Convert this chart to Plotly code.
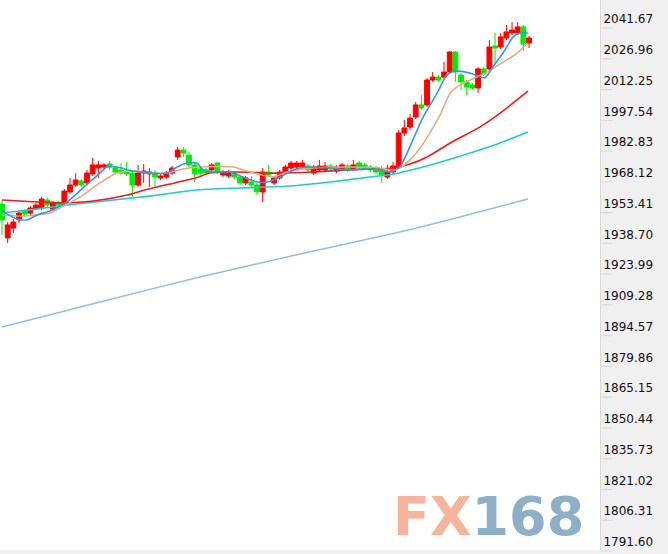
import plotly.graph_objects as go

# ---- candle data (index, open, high, low, close) ----
opens = [1953.2, 1937.0, 1941.7, 1945.6, 1949.9, 1948.9, 1950.8, 1951.3, 1955.1, 1950.8,
         1953.7, 1953.7, 1959.0, 1962.3, 1964.2, 1963.3, 1967.6, 1970.4, 1970.9, 1972.3,
         1970.4, 1969.5, 1968.5, 1968.0, 1962.3, 1968.0, 1967.6, 1968.0, 1965.7, 1966.1,
         1968.0, 1975.7, 1979.0, 1976.6, 1971.9, 1970.0, 1969.5, 1969.5, 1972.8, 1967.1,
         1966.6, 1968.0, 1966.1, 1963.3, 1963.7, 1962.3, 1959.0, 1968.5, 1963.3, 1965.7,
         1968.5, 1970.4, 1970.9, 1970.9, 1971.4, 1968.0, 1969.5, 1969.5, 1971.4, 1969.0,
         1970.0, 1971.4, 1970.0, 1972.8, 1971.9, 1970.9, 1970.4, 1969.5, 1966.1, 1968.5,
         1970.9, 1987.2, 1990.0, 1994.8, 2000.6, 2000.6, 2012.5, 2013.9, 2013.9, 2016.3,
         2025.9, 2014.9, 2011.6, 2010.1, 2008.7, 2017.8, 2017.8, 2028.8, 2028.3, 2032.6,
         2035.0, 2035.0, 2037.9, 2030.2]
highs = [1955.1, 1944.6, 1946.0, 1949.9, 1950.8, 1952.3, 1953.7, 1956.6, 1956.1, 1954.7,
         1954.7, 1960.4, 1965.7, 1968.0, 1965.2, 1969.5, 1975.2, 1973.8, 1972.8, 1973.8,
         1971.4, 1972.8, 1973.3, 1969.5, 1971.9, 1972.3, 1970.4, 1969.5, 1968.0, 1969.0,
         1971.4, 1980.5, 1980.5, 1978.1, 1973.3, 1971.4, 1970.4, 1972.8, 1973.3, 1969.5,
         1969.5, 1969.0, 1967.1, 1966.6, 1966.6, 1963.3, 1970.4, 1971.9, 1966.6, 1969.5,
         1971.9, 1973.8, 1973.8, 1974.3, 1972.3, 1971.9, 1974.3, 1973.3, 1972.3, 1971.9,
         1972.8, 1972.3, 1974.3, 1973.8, 1972.8, 1971.9, 1971.4, 1971.4, 1971.9, 1973.3,
         1988.6, 1993.4, 1996.3, 2002.0, 2005.3, 2013.5, 2016.3, 2014.9, 2021.1, 2026.4,
         2026.4, 2015.9, 2012.5, 2011.1, 2018.7, 2018.7, 2031.6, 2035.0, 2035.0, 2038.8,
         2040.2, 2040.2, 2038.8, 2033.6]
lows = [1938.4, 1934.6, 1939.4, 1944.1, 1947.0, 1948.0, 1950.4, 1950.4, 1951.8, 1949.9,
        1951.8, 1952.7, 1958.0, 1961.4, 1961.4, 1962.3, 1966.6, 1965.7, 1970.0, 1969.5,
        1967.6, 1967.1, 1966.6, 1956.6, 1961.4, 1963.3, 1961.4, 1961.4, 1964.7, 1965.2,
        1967.1, 1974.3, 1975.7, 1970.9, 1963.7, 1967.1, 1967.1, 1968.5, 1967.6, 1966.1,
        1965.7, 1965.2, 1962.3, 1962.3, 1961.4, 1957.5, 1954.2, 1966.1, 1962.3, 1964.7,
        1967.6, 1969.5, 1970.0, 1970.0, 1968.5, 1967.1, 1968.5, 1968.5, 1969.0, 1968.0,
        1969.0, 1968.5, 1969.0, 1970.0, 1969.5, 1968.5, 1967.6, 1963.3, 1965.2, 1967.6,
        1970.0, 1985.7, 1988.6, 1993.9, 1998.2, 1999.6, 2011.6, 2011.6, 2013.0, 2015.4,
        2011.6, 2007.7, 2005.3, 2007.7, 2006.3, 2014.4, 2016.8, 2020.2, 2027.3, 2031.6,
        2034.0, 2034.0, 2026.4, 2027.8]
closes = [1945.6, 1943.2, 1944.6, 1948.9, 1948.4, 1951.3, 1952.7, 1955.6, 1952.7, 1953.7,
          1952.7, 1959.4, 1962.3, 1964.7, 1962.3, 1968.0, 1971.9, 1971.9, 1971.9, 1970.9,
          1968.5, 1968.0, 1967.6, 1962.3, 1968.0, 1969.0, 1968.5, 1966.1, 1966.6, 1968.0,
          1970.4, 1979.0, 1977.6, 1971.9, 1967.6, 1968.0, 1968.0, 1971.9, 1968.5, 1968.5,
          1968.5, 1966.1, 1963.3, 1965.7, 1962.3, 1959.0, 1968.5, 1967.1, 1965.7, 1968.5,
          1970.9, 1972.8, 1972.8, 1972.8, 1969.5, 1970.9, 1971.4, 1971.4, 1970.0, 1970.9,
          1971.9, 1969.5, 1971.9, 1970.9, 1970.4, 1969.5, 1968.5, 1967.1, 1968.5, 1971.4,
          1987.2, 1989.6, 1994.3, 2000.6, 1999.1, 2012.5, 2013.9, 2012.5, 2016.3, 2025.9,
          2016.3, 2011.6, 2009.2, 2008.7, 2017.8, 2015.4, 2028.3, 2027.8, 2033.1, 2035.5,
          2036.4, 2037.9, 2029.7, 2032.6]
candle_idx = list(range(len(opens)))

# ---- moving average lines (index, value) ----
ma5_x = [0, 2.6, 4.4, 6.2, 8.5, 11.5, 14.3, 17.3, 18.5, 20.3, 23.1, 26.1, 29.1, 30.9, 32.6,
         34.4, 35.5, 37.2, 40.2, 42.5, 45.0, 46.8, 49.1, 51.4, 53.8, 57.9, 60.9, 63.7, 66.7,
         68.5, 70.2, 72.5, 74.3, 76.8, 78.5, 79.9, 82.6, 85.2, 86.6, 88.4, 90.2, 91.4, 92.8]
ma5_y = [1949.9, 1946.0, 1945.6, 1948.0, 1949.9, 1954.2, 1960.9, 1968.0, 1970.9, 1970.9,
         1969.0, 1968.0, 1968.0, 1970.9, 1972.8, 1972.8, 1969.5, 1968.5, 1968.5, 1966.1,
         1963.7, 1963.7, 1966.1, 1969.5, 1970.9, 1970.4, 1969.5, 1970.0, 1969.5, 1968.5,
         1970.9, 1983.8, 1994.8, 2006.3, 2014.9, 2016.8, 2015.8, 2013.5, 2018.7, 2025.4,
         2033.1, 2035.0, 2035.0]

ma10_x = [0, 3.2, 8.5, 10.2, 13.8, 17.3, 20.3, 23.1, 26.1, 29.1, 31.9, 34.9, 40.8, 43.8,
          47.8, 50.3, 54.9, 60.9, 66.7, 69.0, 70.2, 72.0, 73.8, 75.5, 77.3, 79.1, 80.8, 82.6,
          85.6, 88.4, 90.5, 92.8]
ma10_y = [1948.0, 1947.5, 1948.9, 1951.3, 1956.6, 1963.3, 1968.0, 1969.0, 1968.0, 1968.0,
          1970.0, 1970.9, 1970.9, 1968.5, 1966.1, 1968.5, 1970.4, 1970.9, 1970.4, 1969.5,
          1970.4, 1974.3, 1980.0, 1987.2, 1995.8, 2006.3, 2010.1, 2012.5, 2016.3, 2021.1,
          2024.5, 2030.2]

ma20_x = [0, 6.2, 11.5, 17.3, 22.1, 25.2, 30.5, 34.1, 36.7, 42.0, 47.8, 54.9, 60.9, 69.0,
          72.0, 75.0, 79.1, 84.3, 87.9, 92.8]
ma20_y = [1955.1, 1954.2, 1953.7, 1955.1, 1957.5, 1959.9, 1963.3, 1965.6, 1968.0, 1968.5,
          1968.0, 1968.5, 1969.5, 1970.4, 1972.3, 1975.7, 1982.4, 1990.0, 1996.7, 2007.2]

ma60_x = [0, 4.9, 11.5, 16.4, 26.1, 34.1, 42.0, 50.8, 57.9, 64.9, 69.3, 76.8, 82.6, 87.9, 92.8]
ma60_y = [1948.9, 1950.4, 1952.7, 1954.2, 1957.0, 1959.9, 1960.9, 1961.8, 1963.7, 1966.1,
          1967.6, 1972.8, 1977.6, 1982.4, 1987.6]

ma120_x = [0, 17.3, 34.9, 52.6, 70.2, 80.8, 92.8]
ma120_y = [1894.4, 1906.4, 1918.3, 1929.3, 1939.8, 1947.0, 1955.6]

tick_vals = [1791.60, 1806.31, 1821.02, 1835.73, 1850.44, 1865.15, 1879.86, 1894.57,
             1909.28, 1923.99, 1938.70, 1953.41, 1968.12, 1982.83, 1997.54, 2012.25,
             2026.96, 2041.67]
tick_text = ["%.2f" % v for v in tick_vals]

Y_MIN, Y_MAX = 1787.77, 2050.76
W, H = 668, 554
PLOT_W, PLOT_H = 600, 550

fig = go.Figure()

fig.add_trace(go.Scatter(x=ma120_x, y=ma120_y, mode="lines",
                         line=dict(color="#8fc0df", width=1.5, shape="spline", smoothing=0.6),
                         hoverinfo="skip"))
fig.add_trace(go.Scatter(x=ma60_x, y=ma60_y, mode="lines",
                         line=dict(color="#1fcbd2", width=1.6, shape="spline", smoothing=0.6),
                         hoverinfo="skip"))
fig.add_trace(go.Scatter(x=ma20_x, y=ma20_y, mode="lines",
                         line=dict(color="#ee1c1c", width=1.6, shape="spline", smoothing=0.6),
                         hoverinfo="skip"))

fig.add_trace(go.Candlestick(
    x=candle_idx, open=opens, high=highs, low=lows, close=closes,
    increasing=dict(line=dict(color="#ff0000", width=1), fillcolor="#ff0000"),
    decreasing=dict(line=dict(color="#00ee00", width=1), fillcolor="#00ee00"),
    whiskerwidth=0, hoverinfo="skip"))

fig.add_trace(go.Scatter(x=ma10_x, y=ma10_y, mode="lines",
                         line=dict(color="#e8a878", width=1.5, shape="spline", smoothing=0.6),
                         hoverinfo="skip"))
fig.add_trace(go.Scatter(x=ma5_x, y=ma5_y, mode="lines",
                         line=dict(color="#3a94ec", width=1.6, shape="spline", smoothing=0.6),
                         hoverinfo="skip"))

# small tick dashes in the right-hand panel (just below each label)
shapes = []
for v in tick_vals:
    yp = (v - Y_MIN) / (Y_MAX - Y_MIN) - 9.0 / PLOT_H
    shapes.append(dict(type="line", xref="paper", yref="paper",
                       x0=1.002, x1=1.021, y0=yp, y1=yp,
                       line=dict(color="#d6d6d6", width=1)))

fig.update_layout(
    width=W, height=H,
    margin=dict(l=0, r=W - PLOT_W, t=0, b=H - PLOT_H, autoexpand=False),
    paper_bgcolor="#f0f0f0",
    plot_bgcolor="#ffffff",
    showlegend=False,
    boxgap=0.15,
    boxgroupgap=0,
    font=dict(family="DejaVu Sans", size=12, color="#111111"),
    shapes=shapes,
    xaxis=dict(range=[-0.353, 105.52], visible=False, rangeslider=dict(visible=False),
               showgrid=False, zeroline=False, fixedrange=True),
    yaxis=dict(range=[Y_MIN, Y_MAX], side="right", tickvals=tick_vals, ticktext=tick_text,
               showgrid=False, zeroline=False, ticks="", showline=True, automargin=False,
               linecolor="#d9d9d9", linewidth=1,
               tickfont=dict(family="DejaVu Sans", size=12, color="#111111")),
    annotations=[dict(
        text="<b><span style='color:#f5b49b'>FX</span><span style='color:#8db0c8'>168</span></b>",
        xref="paper", yref="paper", x=0.815, y=1 - 516.0 / PLOT_H,
        xanchor="center", yanchor="middle", showarrow=False,
        font=dict(family="DejaVu Sans", size=54))],
)

fig.write_html("out.html", config={"displayModeBar": False},
               post_script="document.body.style.margin='0';document.body.style.padding='0';")
